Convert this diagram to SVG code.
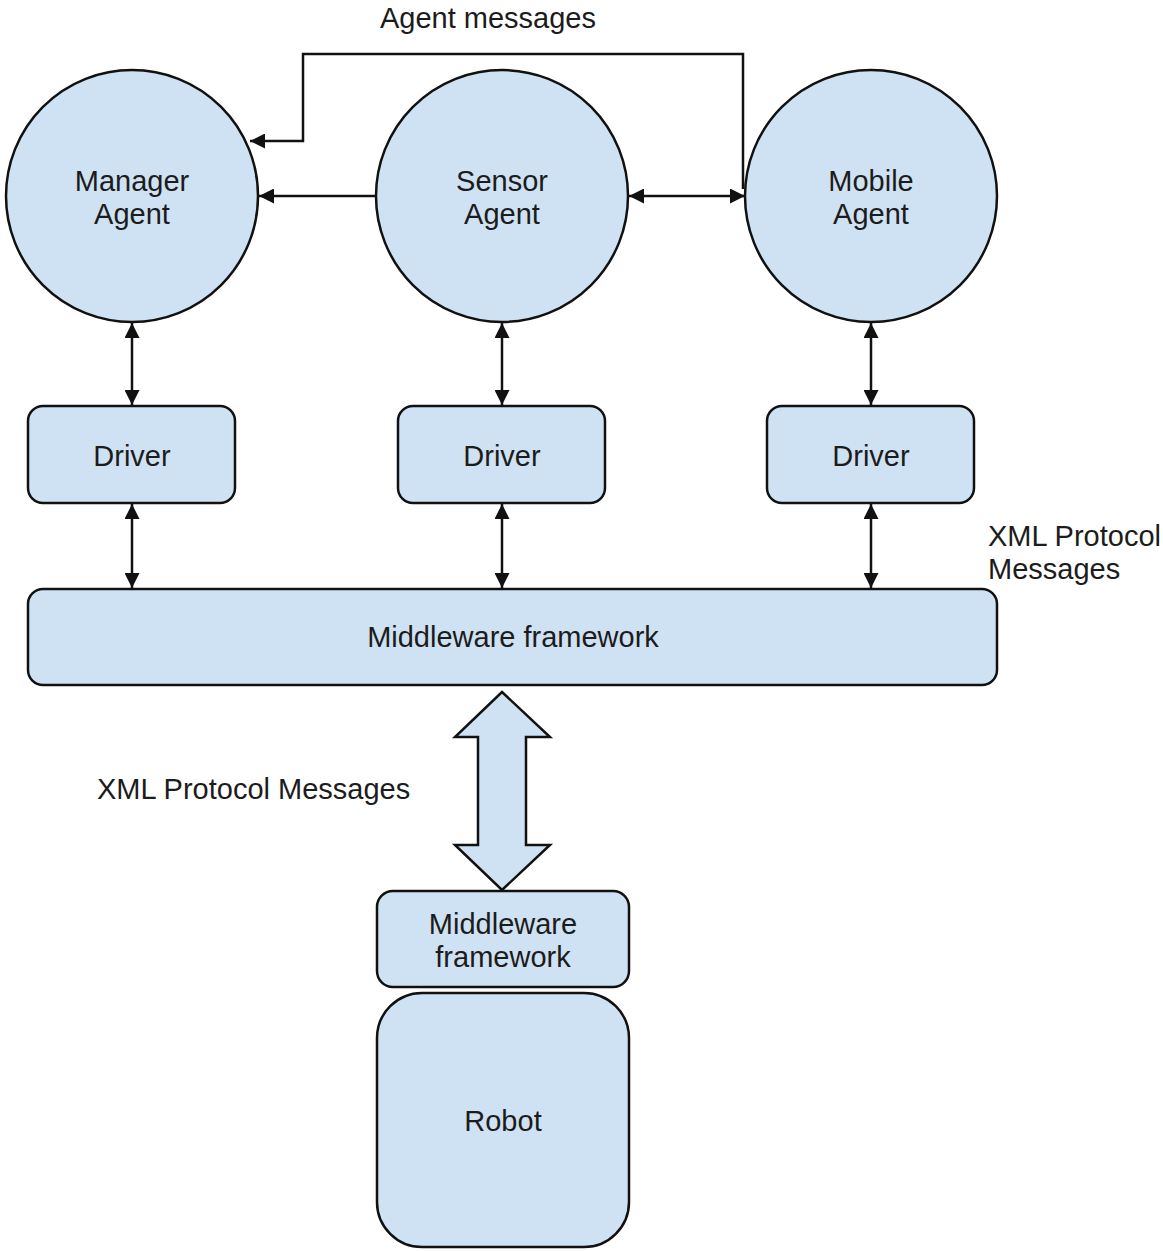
<svg xmlns="http://www.w3.org/2000/svg" width="1163" height="1251" viewBox="0 0 1163 1251">
  <style>
    .shape { fill: #cfe2f3; stroke: #111; stroke-width: 2.5; }
    .lbl { font-family: "Liberation Sans", Arial, sans-serif; font-size: 29px; fill: #1c1c1c; text-anchor: middle; }
    .note { font-family: "Liberation Sans", Arial, sans-serif; font-size: 29px; fill: #1c1c1c; }
    .wire { fill: none; stroke: #111; stroke-width: 2.5; }
  </style>
  <defs>
    <marker id="head" viewBox="0 0 10 10" refX="10" refY="5" markerWidth="6" markerHeight="6" markerUnits="strokeWidth" orient="auto-start-reverse">
      <path d="M0,0 L10,5 L0,10 z" fill="#111"/>
    </marker>
  </defs>
  <rect width="1163" height="1251" fill="#fff"/>

  <!-- agents -->
  <g id="manager-agent">
    <circle class="shape" cx="132" cy="196" r="126"/>
    <text class="lbl" x="132" y="191">Manager</text>
    <text class="lbl" x="132" y="224">Agent</text>
  </g>
  <g id="sensor-agent">
    <circle class="shape" cx="502" cy="196" r="126"/>
    <text class="lbl" x="502" y="191">Sensor</text>
    <text class="lbl" x="502" y="224">Agent</text>
  </g>
  <g id="mobile-agent">
    <circle class="shape" cx="871" cy="196" r="126"/>
    <text class="lbl" x="871" y="191">Mobile</text>
    <text class="lbl" x="871" y="224">Agent</text>
  </g>

  <!-- drivers -->
  <g id="driver-manager">
    <rect class="shape" x="28" y="406" width="207" height="97" rx="15"/>
    <text class="lbl" x="132" y="466">Driver</text>
  </g>
  <g id="driver-sensor">
    <rect class="shape" x="398" y="406" width="207" height="97" rx="15"/>
    <text class="lbl" x="502" y="466">Driver</text>
  </g>
  <g id="driver-mobile">
    <rect class="shape" x="767" y="406" width="207" height="97" rx="15"/>
    <text class="lbl" x="871" y="466">Driver</text>
  </g>

  <!-- middleware layer -->
  <g id="middleware">
    <rect class="shape" x="28" y="589" width="969" height="96" rx="15"/>
    <text class="lbl" x="513" y="647">Middleware framework</text>
  </g>

  <!-- robot side -->
  <g id="robot-middleware">
    <rect class="shape" x="377" y="891" width="252" height="96" rx="16"/>
    <text class="lbl" x="503" y="934">Middleware</text>
    <text class="lbl" x="503" y="967">framework</text>
  </g>
  <g id="robot">
    <rect class="shape" x="377" y="993" width="252" height="254" rx="45"/>
    <text class="lbl" x="503" y="1131">Robot</text>
  </g>

  <!-- connectors -->
  <g id="connectors">
    <polyline class="wire" points="743,189 743,54 303,54 303,141 250,141" marker-end="url(#head)"/>
    <line class="wire" x1="376" y1="196" x2="259" y2="196" marker-end="url(#head)"/>
    <line class="wire" x1="629" y1="196" x2="745" y2="196" marker-start="url(#head)" marker-end="url(#head)"/>

    <line class="wire" x1="132" y1="323" x2="132" y2="405" marker-start="url(#head)" marker-end="url(#head)"/>
    <line class="wire" x1="502" y1="323" x2="502" y2="405" marker-start="url(#head)" marker-end="url(#head)"/>
    <line class="wire" x1="871" y1="323" x2="871" y2="405" marker-start="url(#head)" marker-end="url(#head)"/>

    <line class="wire" x1="132" y1="504" x2="132" y2="588" marker-start="url(#head)" marker-end="url(#head)"/>
    <line class="wire" x1="502" y1="504" x2="502" y2="588" marker-start="url(#head)" marker-end="url(#head)"/>
    <line class="wire" x1="871" y1="504" x2="871" y2="588" marker-start="url(#head)" marker-end="url(#head)"/>

    <!-- wide two-way arrow between middleware layers -->
    <polygon class="shape" points="502,692 550,737 526,737 526,845 550,845 502,890 455,845 478,845 478,737 455,737"/>
  </g>

  <!-- free labels -->
  <text class="note" x="488" y="28" text-anchor="middle">Agent messages</text>
  <text class="note" x="988" y="546">XML Protocol</text>
  <text class="note" x="988" y="579">Messages</text>
  <text class="note" x="97" y="799">XML Protocol Messages</text>
</svg>
